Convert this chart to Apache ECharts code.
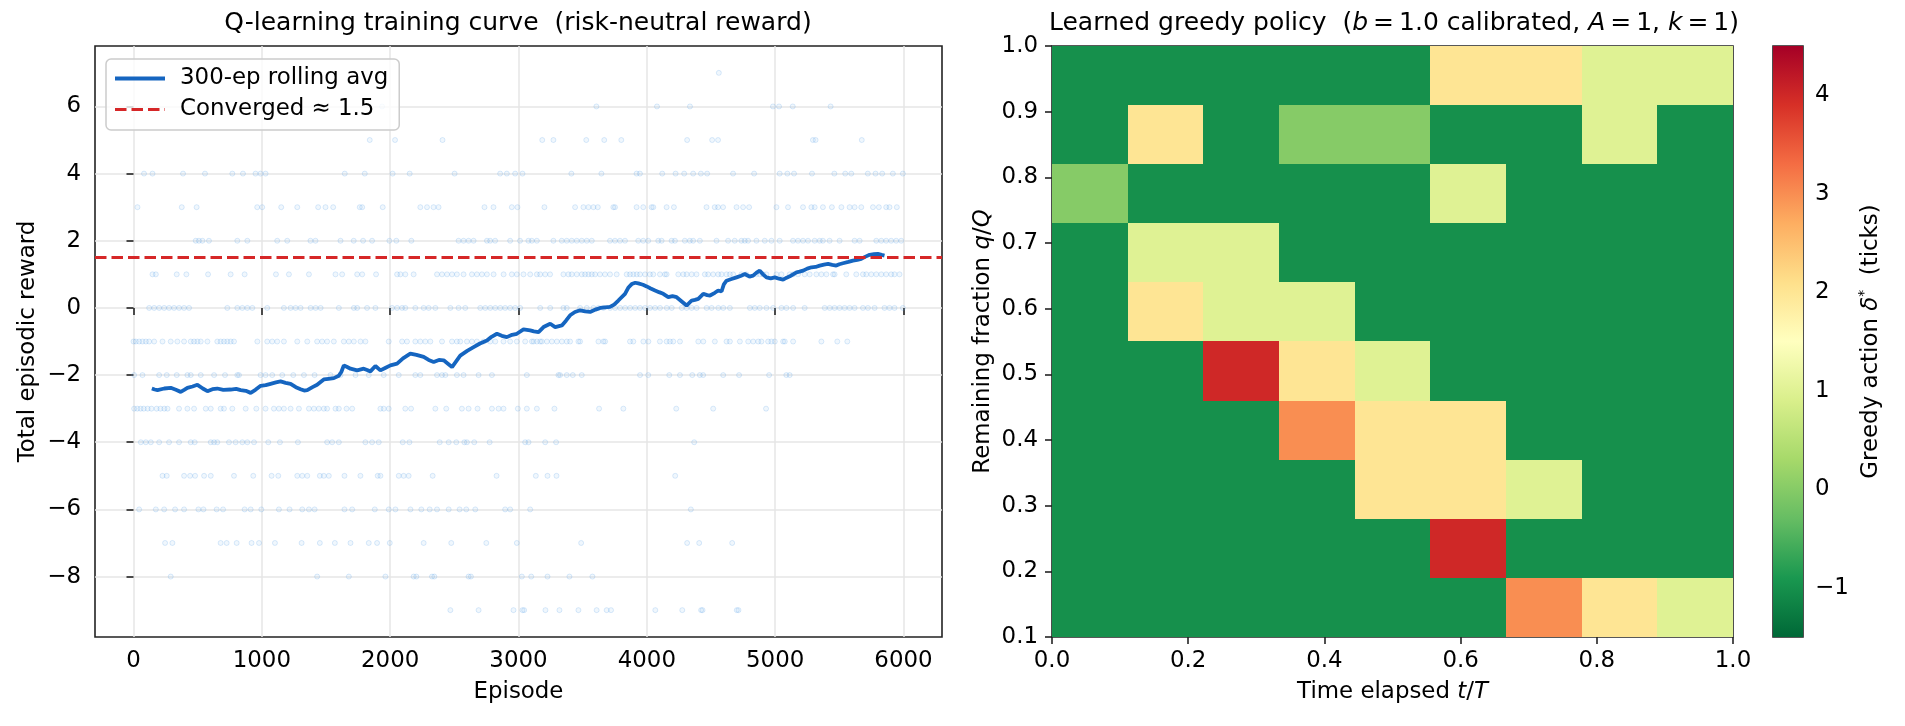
<!DOCTYPE html>
<html><head><meta charset="utf-8">
<script src="https://cdn.jsdelivr.net/npm/echarts@6/dist/echarts.min.js"></script>
<style>html,body{margin:0;padding:0;background:#fff}#c{width:1905px;height:726px}</style>
</head><body><div id="c"></div>
<script>
// ---------- Left panel: episodic rewards (episode numbers per integer reward level) ----------
const ep_r7 = [4561];
const ep_r6 = [1937,3607,4079,4336,4983,5030,5137,5432];
const ep_r5 = [1841,2038,2408,3185,3272,3528,3668,3801,4314,4509,4555,5294,5315,5675];
const ep_r4 = [82,148,386,557,770,853,951,990,1029,1646,1802,2019,2152,2502,2857,2909,2974,3031,3412,3646,3920,3946,4120,4224,4291,4361,4421,4470,4672,4836,5035,5095,5147,5287,5461,5546,5593,5722,5782,5834,5917,5995];
const ep_r3 = [31,376,492,964,1003,1151,1276,1439,1496,1556,1763,1782,1942,2235,2287,2338,2377,2735,2805,2948,2992,3202,3441,3506,3545,3584,3618,3739,3752,3920,3972,4037,4050,4154,4211,4465,4529,4555,4594,4699,4750,4797,5010,5100,5217,5282,5308,5372,5442,5516,5580,5619,5671,5762,5808,5865,5891,5948];
const ep_r2 = [485,510,537,588,809,887,1120,1198,1379,1418,1613,1716,1789,1859,1994,2048,2165,2533,2572,2611,2650,2754,2779,2818,2935,3012,3077,3104,3143,3272,3337,3376,3415,3454,3493,3532,3571,3713,3752,3791,3830,3933,3972,4011,4089,4115,4193,4219,4296,4335,4361,4413,4543,4633,4685,4737,4763,4789,4854,4919,4971,5035,5139,5178,5217,5256,5308,5347,5372,5424,5502,5619,5658,5788,5827,5865,5904,5943,5982];
const ep_r1 = [148,174,337,412,581,757,866,1110,1211,1367,1574,1626,1743,1782,1890,2054,2080,2118,2183,2365,2404,2443,2482,2520,2572,2637,2676,2715,2754,2806,2884,2948,2987,3039,3091,3143,3169,3208,3246,3350,3389,3415,3454,3493,3519,3545,3571,3597,3635,3674,3713,3765,3843,3869,3895,3921,3947,3986,4024,4050,4102,4141,4154,4245,4284,4310,4349,4387,4452,4478,4517,4556,4582,4621,4647,4673,4737,4776,4854,4880,4906,4932,5010,5049,5113,5139,5178,5230,5269,5321,5360,5399,5451,5463,5554,5632,5684,5710,5749,5788,5827,5865,5904,5930,5969];
const ep_r0 = [122,161,200,239,277,316,355,394,433,731,809,848,887,926,1042,1172,1224,1263,1302,1380,1419,1458,1600,1717,1743,1820,1885,2015,2054,2093,2118,2196,2261,2300,2352,2469,2533,2585,2702,2741,2780,2819,2858,2896,2935,2974,3013,3169,3247,3350,3376,3480,3532,3584,3623,3662,3714,3753,3792,3831,3870,3909,3947,3986,4025,4064,4103,4155,4194,4272,4310,4349,4388,4466,4505,4557,4596,4647,4803,4841,4880,4932,4984,5049,5088,5140,5230,5386,5425,5463,5502,5541,5580,5619,5684,5723,5775,5852,5891,5930,5995];
const ep_rm1 = [0,18,44,70,96,122,161,226,290,342,394,446,472,498,524,576,653,679,705,731,757,783,965,1042,1081,1120,1172,1276,1354,1431,1470,1509,1561,1639,1678,1717,1769,1807,1989,2093,2131,2196,2235,2274,2313,2404,2482,2520,2546,2598,2637,2676,2728,2780,2819,2883,2935,2987,3052,3104,3117,3143,3169,3182,3221,3260,3299,3338,3376,3402,3467,3480,3623,3662,3675,3869,3895,3973,4012,4102,4154,4180,4206,4258,4401,4440,4530,4621,4647,4725,4790,4829,4868,4893,4945,4971,4997,5062,5075,5140,5360,5484,5562];
const ep_rm2 = [5,70,200,259,337,420,446,524,628,713,809,822,990,1029,1081,1159,1245,1328,1411,1535,1613,1730,1833,1950,2067,2196,2235,2365,2404,2430,2520,2572,2689,2793,3065,3311,3324,3376,3423,3493,3947,4011,4175,4258,4354,4413,4439,4595,4719,4953,5087,5113];
const ep_rm3 = [5,30,55,80,110,140,180,210,240,265,355,420,472,563,602,679,705,770,874,957,1029,1094,1133,1172,1224,1289,1367,1406,1444,1483,1509,1574,1600,1660,1704,1924,1950,1989,2118,2163,2352,2437,2559,2611,2681,2793,2845,2883,2995,3065,3143,3280,3628,3817,4229,4517,4929];
const ep_rm4 = [57,96,135,200,277,355,446,477,602,628,653,744,796,848,887,939,1050,1141,1281,1509,1548,1600,1807,1859,1911,2098,2150,2386,2456,2515,2578,2598,2655,2775,3052,3078,3208,3293,4369];
const ep_rm5 = [226,259,394,441,480,550,602,783,933,1076,1128,1276,1315,1354,1452,1483,1522,1644,1768,1903,1924,2067,2105,2144,2331,2829,3135,3226,3296,4221];
const ep_rm6 = [44,174,239,324,394,506,545,648,698,866,913,996,1133,1216,1315,1367,1411,1644,1704,1880,1989,2041,2158,2243,2308,2365,2456,2541,2593,2663,2896,2935,3091,4343];
const ep_rm7 = [246,303,679,726,804,920,978,1102,1310,1452,1569,1691,1833,1898,1997,2261,2476,2749,2987,3488,4314,4408,4665];
const ep_rm8 = [290,1431,1678,1963,2183,2204,2326,2344,2611,2629,3026,3099,3226,3397,3576];
const ep_rm9 = [2469,2689,2961,3031,3044,3210,3319,3467,3609,3687,3721,4066,4276,4423,4434,4701,4714];

const rewardLevels = [7,6,5,4,3,2,1,0,-1,-2,-3,-4,-5,-6,-7,-8,-9];
const episodesByLevel = [ep_r7,ep_r6,ep_r5,ep_r4,ep_r3,ep_r2,ep_r1,ep_r0,ep_rm1,ep_rm2,ep_rm3,ep_rm4,ep_rm5,ep_rm6,ep_rm7,ep_rm8,ep_rm9];

// 300-episode rolling average
const rollEp  = [143,165,187,240,290,330,368,395,420,460,498,540,576,615,653,700,757,800,835,875,913,950,991,1030,1068,1110,1146,1185,1224,1265,1302,1330,1354,1395,1431,1460,1483,1520,1561,1600,1620,1639,1665,1691,1743,1794,1820,1846,1885,1924,1965,2002,2054,2100,2157,2205,2261,2300,2339,2380,2417,2450,2482,2546,2600,2650,2700,2754,2790,2832,2870,2909,2950,2987,3039,3091,3120,3156,3195,3247,3286,3338,3370,3402,3440,3480,3520,3558,3600,3636,3713,3745,3778,3830,3855,3882,3910,3934,3970,3999,4030,4064,4095,4128,4167,4200,4232,4279,4310,4349,4375,4401,4440,4470,4492,4530,4556,4582,4600,4621,4660,4699,4735,4764,4800,4828,4855,4880,4905,4932,4965,4997,5030,5062,5090,5114,5140,5166,5190,5218,5250,5283,5315,5347,5380,5412,5445,5476,5500,5528,5570,5606,5640,5671,5700,5736,5770,5800,5830,5852];
const rollVal = [-2.40,-2.43,-2.45,-2.40,-2.38,-2.44,-2.50,-2.44,-2.38,-2.34,-2.29,-2.40,-2.48,-2.42,-2.40,-2.44,-2.43,-2.41,-2.45,-2.47,-2.53,-2.44,-2.32,-2.30,-2.26,-2.22,-2.19,-2.23,-2.26,-2.36,-2.42,-2.46,-2.45,-2.36,-2.29,-2.20,-2.13,-2.11,-2.09,-2.02,-1.90,-1.71,-1.76,-1.81,-1.86,-1.81,-1.85,-1.89,-1.73,-1.86,-1.78,-1.71,-1.66,-1.50,-1.36,-1.40,-1.46,-1.55,-1.61,-1.55,-1.56,-1.66,-1.76,-1.42,-1.28,-1.17,-1.06,-0.97,-0.86,-0.77,-0.83,-0.87,-0.80,-0.77,-0.64,-0.67,-0.70,-0.72,-0.57,-0.47,-0.57,-0.52,-0.38,-0.22,-0.12,-0.07,-0.10,-0.12,-0.05,0.00,0.03,0.10,0.22,0.42,0.60,0.71,0.75,0.73,0.69,0.64,0.58,0.52,0.47,0.42,0.32,0.35,0.32,0.17,0.07,0.22,0.24,0.27,0.42,0.38,0.37,0.45,0.52,0.49,0.70,0.81,0.86,0.91,0.96,1.01,0.93,0.96,1.05,1.11,1.00,0.91,0.88,0.91,0.87,0.84,0.90,0.94,1.00,1.06,1.08,1.11,1.17,1.21,1.22,1.26,1.29,1.31,1.28,1.26,1.30,1.33,1.37,1.41,1.43,1.46,1.52,1.58,1.60,1.61,1.58,1.56];
const convergedValue = 1.5;
const xTicksLeft = [0,1000,2000,3000,4000,5000,6000];
const yTicksLeft = [-8,-6,-4,-2,0,2,4,6];

// ---------- Right panel: greedy policy grid (rows top q=1.0 -> bottom q=0.1; cols t/T 0 -> 1) ----------
const policyRows = [
  [-1,-1,-1,-1,-1, 2, 2, 1, 1],
  [-1, 2,-1, 0, 0,-1,-1, 1,-1],
  [ 0,-1,-1,-1,-1, 1,-1,-1,-1],
  [-1, 1, 1,-1,-1,-1,-1,-1,-1],
  [-1, 2, 1, 1,-1,-1,-1,-1,-1],
  [-1,-1, 4, 2, 1,-1,-1,-1,-1],
  [-1,-1,-1, 3, 2, 2,-1,-1,-1],
  [-1,-1,-1,-1, 2, 2, 1,-1,-1],
  [-1,-1,-1,-1,-1, 4,-1,-1,-1],
  [-1,-1,-1,-1,-1,-1, 3, 2, 1]
];
const tExtent = [0, 1];
const qExtent = [0.1, 1.0];
const xTicksRight = [0,0.2,0.4,0.6,0.8,1.0];
const yTicksRight = [0.1,0.2,0.3,0.4,0.5,0.6,0.7,0.8,0.9,1.0];
const cbarRange = [-1.5, 4.5];
const cbarTicks = [-1,0,1,2,3,4];
const rdYlGnR = ['#006837','#1a9850','#66bd63','#a6d96a','#d9ef8b','#ffffbf','#fee08b','#fdae61','#f46d43','#d73027','#a50026'];

// ---------- build ----------
const scatterData = [];
rewardLevels.forEach((r, i) => episodesByLevel[i].forEach(e => scatterData.push([e, r])));
const rollData = rollEp.map((e, i) => [e, rollVal[i]]);

const nCols = policyRows[0].length, nRows = policyRows.length;
const colEdge = c => tExtent[0] + (tExtent[1]-tExtent[0]) * c / nCols;
const rowEdge = r => qExtent[1] - (qExtent[1]-qExtent[0]) * r / nRows;   // r=0 top edge
// cell: [xLeft, yBottom, value, xRight, yTop]
const cellData = [];
policyRows.forEach((row, ri) => row.forEach((v, ci) => {
  cellData.push([colEdge(ci), rowEdge(ri+1), v, colEdge(ci+1), rowEdge(ri)]);
}));

const FONT = 'DejaVu Sans';
const FS = 22.9;
const spine = '#222';
const minus = v => v < 0 ? '\u2212' + Math.abs(v) : String(v);
const tickStyle = {show:true, inside:false, length:7, lineStyle:{color:spine, width:1.6}};
const lbl = {color:'#000', fontFamily:FONT, fontSize:FS};
const nameStyle = {color:'#000', fontFamily:FONT, fontSize:FS,
  rich:{i:{fontStyle:'italic', fontFamily:FONT, fontSize:FS, color:'#000'},
        sup:{fontFamily:FONT, fontSize:14, color:'#000', padding:[0,0,14,0]}}};

const chart = echarts.init(document.getElementById('c'), null, {renderer:'canvas'});
const option = {
  animation:false,
  backgroundColor:'#fff',
  textStyle:{fontFamily:FONT},
  grid:[
    {left:95, top:46, width:847, height:591, show:true, borderColor:spine, borderWidth:1.6, backgroundColor:'transparent', containLabel:false},
    {left:1052, top:46, width:681, height:591, show:true, borderColor:spine, borderWidth:1.6, containLabel:false},
    {left:1773, top:46, width:30, height:591, show:true, borderColor:spine, borderWidth:1.6, containLabel:false}
  ],
  xAxis:[
    {gridIndex:0, type:'value', min:-300, max:6300,
     axisLine:{show:false}, axisTick:Object.assign({customValues:xTicksLeft}, tickStyle),
     axisLabel:Object.assign({customValues:xTicksLeft, margin:13, formatter:v=>String(v)}, lbl),
     splitLine:{show:true, lineStyle:{color:'#e6e6e6', width:1.5}},
     name:'Episode', nameLocation:'middle', nameGap:44, nameTextStyle:nameStyle},
    {gridIndex:1, type:'value', min:0, max:1,
     axisLine:{show:false}, axisTick:Object.assign({customValues:xTicksRight}, tickStyle),
     axisLabel:Object.assign({customValues:xTicksRight, margin:13, formatter:v=>v.toFixed(1)}, lbl),
     splitLine:{show:false},
     name:'Time elapsed {i|t}/{i|T}', nameLocation:'middle', nameGap:44, nameTextStyle:nameStyle},
    {gridIndex:2, type:'value', min:0, max:1, show:false}
  ],
  yAxis:[
    {gridIndex:0, type:'value', min:-9.8, max:7.8,
     axisLine:{show:false}, axisTick:Object.assign({customValues:yTicksLeft}, tickStyle),
     axisLabel:Object.assign({customValues:yTicksLeft, margin:14, formatter:minus}, lbl),
     splitLine:{show:true, lineStyle:{color:'#e6e6e6', width:1.5}},
     name:'Total episodic reward', nameLocation:'middle', nameGap:55, nameRotate:90, nameTextStyle:nameStyle},
    {gridIndex:1, type:'value', min:0.1, max:1.0,
     axisLine:{show:false}, axisTick:Object.assign({customValues:yTicksRight}, tickStyle),
     axisLabel:Object.assign({customValues:yTicksRight, margin:14, formatter:v=>v.toFixed(1)}, lbl),
     splitLine:{show:false},
     name:'Remaining fraction {i|q}/{i|Q}', nameLocation:'middle', nameGap:57, nameRotate:90, nameTextStyle:nameStyle},
    {gridIndex:2, type:'value', position:'right', min:cbarRange[0], max:cbarRange[1],
     axisLine:{show:false}, axisTick:Object.assign({customValues:cbarTicks}, tickStyle),
     axisLabel:Object.assign({customValues:cbarTicks, margin:12, formatter:minus}, lbl),
     splitLine:{show:false},
     name:'Greedy action {i|\u03b4}{sup|*}  (ticks)', nameLocation:'middle', nameGap:54, nameRotate:90, nameTextStyle:nameStyle}
  ],
  visualMap:[{type:'continuous', show:false, seriesIndex:3, dimension:2, min:cbarRange[0], max:cbarRange[1], inRange:{color:rdYlGnR}}],
  legend:{
    left:106, top:59, orient:'vertical', itemWidth:50, itemHeight:14, itemGap:8,
    padding:[8,11,9,7], borderColor:'#cccccc', borderWidth:1.5, borderRadius:5, backgroundColor:'rgba(255,255,255,0.8)',
    itemStyle:{opacity:0},
    textStyle:{color:'#000', fontFamily:FONT, fontSize:FS, padding:[0,0,0,10]},
    data:[
      {name:'300-ep rolling avg', lineStyle:{width:4}},
      {name:'Converged \u2248 1.5', lineStyle:{width:3}}
    ]
  },
  graphic:[
    {type:'text', x:518, y:23, style:{text:'Q-learning training curve  (risk-neutral reward)', fontFamily:FONT, fontSize:25, fill:'#000', align:'center', verticalAlign:'middle'}},
    {type:'text', x:1394, y:23, style:{text:'Learned greedy policy  ({i|b}\u2009=\u20091.0 calibrated, {i|A}\u2009=\u20091, {i|k}\u2009=\u20091)', fontFamily:FONT, fontSize:25, fill:'#000', align:'center', verticalAlign:'middle',
      rich:{i:{fontStyle:'italic', fontFamily:FONT, fontSize:25, fill:'#000'}}}}
  ],
  series:[
    {type:'scatter', name:'episodes', xAxisIndex:0, yAxisIndex:0, data:scatterData, symbolSize:5,
     itemStyle:{color:'rgba(110,175,240,0.13)', borderColor:'rgba(80,155,230,0.28)', borderWidth:0.9}, z:1, silent:true},
    {type:'line', name:'300-ep rolling avg', xAxisIndex:0, yAxisIndex:0, data:rollData, showSymbol:false, symbol:'none',
     lineStyle:{color:'#1565c0', width:3.8}, itemStyle:{color:'#1565c0'}, z:3},
    {type:'line', name:'Converged \u2248 1.5', xAxisIndex:0, yAxisIndex:0, data:[[-300,convergedValue],[6300,convergedValue]], symbol:'none',
     lineStyle:{color:'#d62728', width:3, type:[11.5,5]}, itemStyle:{color:'#d62728'}, z:4},
    {type:'custom', name:'policy', xAxisIndex:1, yAxisIndex:1, data:cellData,
     encode:{x:[0,3], y:[1,4]},
     renderItem:function(params, api){
       const pTL = api.coord([api.value(0), api.value(4)]);
       const pBR = api.coord([api.value(3), api.value(1)]);
       const L = Math.round(pTL[0]), T = Math.round(pTL[1]), R = Math.round(pBR[0]), B = Math.round(pBR[1]);
       const col = api.visual('color');
       return {type:'rect', shape:{x:L, y:T, width:R-L, height:B-T}, style:{fill:col}};
     }, z:2},
    {type:'custom', name:'colorbar', xAxisIndex:2, yAxisIndex:2, data:[[0, cbarRange[0], 1, cbarRange[1]]],
     renderItem:function(params, api){
       const p0 = api.coord([api.value(0), api.value(3)]);
       const p1 = api.coord([api.value(2), api.value(1)]);
       const stops = rdYlGnR.map((c,i)=>({offset:i/(rdYlGnR.length-1), color:c}));
       return {type:'rect', shape:{x:p0[0], y:p0[1], width:p1[0]-p0[0], height:p1[1]-p0[1]},
               style:{fill:{type:'linear', x:0, y:1, x2:0, y2:0, colorStops:stops}}};
     }, z:2}
  ]
};
chart.setOption(option);
</script>
</body></html>
